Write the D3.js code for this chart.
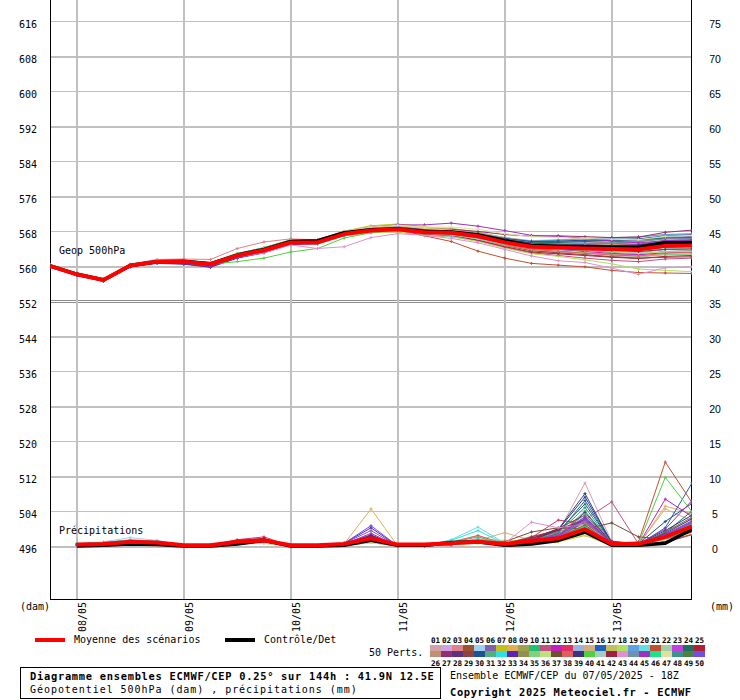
<!DOCTYPE html>
<html><head><meta charset="utf-8">
<script src="https://cdn.jsdelivr.net/npm/d3@7"></script>
<style>body{margin:0;background:#fff} svg{display:block}</style>
</head><body>
<svg id="c" width="740" height="700"></svg>
<script>
const dayLabels = ["08/05","09/05","10/05","11/05","12/05","13/05"];
const dayTicks = [1,5,9,13,17,21];
const geopTicks = [616,608,600,592,584,576,568,560,552,544,536,528,520,512,504,496];
const precTicks = [75,70,65,60,55,50,45,40,35,30,25,20,15,10,5,0];
const pertColors = ["#d4a0a8","#d0a0e0","#e08088","#a05030","#a0d0f0","#8060b0","#c0c020","#e0b050","#a0a050","#20c070",
"#c05080","#c020c0","#e03060","#a0b0e0","#d0b080","#2060c0","#c0c060","#b0e060","#60a0e0","#60e0e0",
"#c05030","#a0d0a0","#c040e0","#207060","#b02030","#c09070","#903070","#603080","#904040","#205090",
"#50b080","#30e0e0","#6020c0","#909050","#80d080","#c0e080","#705030","#e06060","#403080","#50d040",
"#a0d0c0","#a02040","#e090d0","#7090b0","#a030c0","#20e090","#e0e0a0","#409090","#508040","#7050e0"];

const geopMean = [560.0,558.1,556.8,560.1,561.0,561.0,560.4,562.4,563.6,565.4,565.4,567.3,568.1,568.4,567.7,567.6,566.8,565.4,564.4,564.2,564.0,563.9,563.8,564.6,564.7];
const geopControl = [560.0,558.1,556.8,560.1,561.0,561.1,560.5,562.5,563.8,565.6,565.8,567.6,568.3,568.5,567.9,567.8,567.1,565.8,564.7,564.5,564.4,564.3,564.3,565.3,565.3];
const geopPerts = [
[560.1,558.2,556.9,560.2,561.1,561.2,560.6,562.6,563.9,565.6,565.7,567.5,568.3,568.5,567.9,567.2,566.0,564.5,563.0,562.8,562.5,562.2,562.0,562.6,562.8],
[560.0,558.0,556.7,560.0,561.0,560.9,560.3,562.2,563.3,565.2,565.1,567.0,568.0,568.6,568.2,568.0,567.5,566.2,565.5,565.2,565.0,564.8,564.9,565.6,565.8],
[560.1,558.2,556.9,560.4,561.5,561.6,561.5,564.0,565.5,566.2,566.0,567.4,568.0,568.2,567.4,567.0,566.0,564.6,563.5,563.2,563.0,562.7,562.5,563.3,563.5],
[560.0,558.1,556.8,560.1,560.9,560.8,560.2,562.1,563.4,565.3,565.5,567.5,568.4,568.6,567.8,567.5,566.8,565.8,565.0,565.1,565.3,565.5,565.6,566.5,566.8],
[560.0,558.1,556.9,560.2,561.1,561.0,560.5,562.5,563.6,565.3,565.2,567.1,567.8,568.0,567.3,566.9,566.0,564.9,564.0,563.7,563.5,563.3,563.0,563.8,564.0],
[559.8,557.9,556.6,559.9,560.7,560.5,559.8,561.9,563.1,565.0,565.3,567.4,568.5,568.9,568.3,568.2,567.6,566.5,565.6,565.6,565.8,565.8,565.9,566.4,566.5],
[560.1,558.2,556.9,560.3,561.3,561.2,560.7,562.8,564.2,565.9,566.0,568.0,569.2,569.6,569.0,568.3,567.4,566.0,565.2,565.4,565.3,565.0,565.0,565.9,566.2],
[560.0,558.1,556.8,560.1,561.0,561.1,560.5,562.4,563.7,565.6,565.6,567.6,568.6,568.9,568.3,568.0,567.2,565.9,564.6,564.5,564.2,563.9,564.2,565.2,565.5],
[560.0,558.0,556.7,560.0,560.9,560.9,560.3,562.3,563.5,565.3,565.3,567.2,568.0,568.4,567.6,567.5,566.9,565.8,565.2,565.5,565.6,565.5,565.7,566.2,566.3],
[560.3,558.4,557.0,560.3,561.2,561.3,560.8,562.9,564.2,566.0,566.0,567.8,568.6,568.8,568.0,567.8,567.0,565.8,564.8,564.6,564.3,564.0,563.9,564.5,564.6],
[560.0,558.1,556.8,560.1,561.0,561.0,560.4,562.4,563.6,565.4,565.2,567.0,567.7,567.8,567.0,566.7,565.8,564.2,563.0,562.4,561.8,561.3,561.0,561.6,561.8],
[559.9,558.0,556.7,560.0,560.9,560.8,560.1,562.2,563.5,565.4,565.5,567.4,568.2,568.4,567.7,567.6,566.6,565.2,564.0,563.8,563.3,562.9,562.6,563.0,563.2],
[560.0,558.1,556.8,560.2,561.1,561.1,560.6,562.6,563.8,565.5,565.4,567.3,568.1,568.3,567.6,567.4,566.5,565.2,564.3,564.4,564.6,564.7,564.8,565.4,565.6],
[560.0,558.1,556.8,560.1,561.0,561.0,560.4,562.3,563.4,565.1,565.0,566.9,567.8,568.2,567.6,567.5,566.9,566.0,565.4,565.3,565.4,565.6,565.8,566.6,566.9],
[560.1,558.2,556.9,560.1,561.0,561.1,560.6,562.6,563.9,565.7,565.8,567.8,568.8,569.2,568.6,568.3,567.5,566.5,565.8,566.0,566.3,566.5,566.7,567.2,567.4],
[559.9,557.9,556.6,559.9,560.8,560.6,559.9,561.9,563.2,565.1,565.2,567.0,567.9,568.2,567.5,567.3,566.4,565.0,563.9,563.8,563.6,563.3,563.2,563.8,564.0],
[560.0,558.1,556.8,560.1,561.0,561.1,560.5,562.5,563.7,565.6,565.7,567.8,569.0,569.4,568.8,568.6,567.8,566.4,565.4,565.2,565.0,564.7,564.5,565.0,565.0],
[560.0,558.1,556.8,560.1,561.0,561.0,560.4,562.3,563.4,565.2,565.1,566.9,567.6,567.8,567.1,566.7,565.6,564.1,562.8,562.2,561.4,560.5,559.3,559.0,558.7],
[560.0,558.1,556.8,560.1,561.0,560.9,560.3,562.3,563.6,565.4,565.4,567.3,568.2,568.6,568.0,567.9,567.3,566.3,565.7,565.9,566.2,566.4,566.6,567.2,567.3],
[560.2,558.3,557.0,560.3,561.2,561.2,560.7,562.7,564.0,565.8,565.8,567.7,568.5,568.6,567.3,566.8,566.0,564.9,564.2,564.0,563.8,563.4,563.3,563.9,564.1],
[560.0,558.1,556.8,560.1,561.0,561.0,560.4,562.4,563.6,565.3,565.3,567.1,567.9,568.4,566.9,565.6,563.4,561.8,560.6,560.2,559.8,559.0,558.5,558.4,558.3],
[560.0,558.1,556.8,560.0,560.9,560.9,560.3,562.2,563.4,565.2,565.3,567.2,568.0,568.3,567.6,567.5,566.7,565.4,564.5,564.4,564.0,563.6,563.4,564.2,564.5],
[559.9,558.0,556.7,560.0,560.9,560.8,560.2,562.3,563.7,565.6,565.7,567.6,568.4,568.6,567.9,567.7,567.0,565.6,564.8,564.9,565.0,565.2,565.0,565.8,566.0],
[560.0,558.1,556.8,560.1,561.0,561.0,560.4,562.4,563.6,565.4,565.5,567.4,568.3,568.6,567.9,567.8,567.1,566.0,565.3,565.4,565.6,565.9,566.0,566.4,566.5],
[560.0,558.1,556.8,560.1,561.0,561.0,560.5,562.5,563.7,565.4,565.3,567.1,567.9,568.1,567.3,567.0,565.9,564.4,563.2,562.8,562.4,562.0,561.7,562.2,562.4],
[560.1,558.2,556.9,560.2,561.1,561.1,560.6,562.6,563.8,565.5,565.5,567.4,568.2,568.5,567.8,567.6,566.8,565.5,564.6,564.4,564.1,563.9,563.7,564.4,564.6],
[560.0,558.1,556.8,560.1,561.0,561.0,560.4,562.4,563.7,565.5,565.6,567.6,568.6,568.9,568.4,568.4,567.9,567.2,566.8,566.9,566.7,566.5,566.6,567.7,568.2],
[559.8,557.9,556.6,559.8,560.6,560.4,559.7,561.8,563.0,564.9,565.1,567.1,568.1,568.5,567.9,567.8,567.0,565.7,564.9,564.9,564.8,564.6,564.5,565.2,565.4],
[560.0,558.1,556.8,560.1,561.0,561.0,560.4,562.4,563.6,565.4,565.4,567.2,568.0,568.2,567.5,567.3,566.3,564.8,563.5,563.0,562.6,562.1,561.8,562.0,562.1],
[559.9,558.0,556.7,560.0,560.8,560.7,560.0,562.0,563.3,565.2,565.4,567.4,568.4,568.8,568.2,568.1,567.4,566.3,565.6,565.7,565.9,566.1,566.2,566.9,567.1],
[560.2,558.3,557.0,560.3,561.2,561.2,560.6,562.6,563.8,565.6,565.6,567.4,568.2,568.4,567.7,567.5,566.7,565.4,564.4,564.0,563.6,563.1,562.8,563.3,563.5],
[560.3,558.4,557.1,560.4,561.3,561.3,560.7,562.8,564.1,565.9,565.9,567.8,568.7,568.9,568.0,567.4,566.4,565.0,564.1,563.8,563.6,563.5,563.6,564.3,564.4],
[559.8,557.9,556.6,559.8,560.7,560.6,559.9,561.9,563.2,565.1,565.3,567.2,568.1,568.5,567.8,567.7,566.9,565.5,564.5,564.3,564.0,563.8,563.6,564.3,564.5],
[560.0,558.1,556.8,560.1,561.0,561.0,560.4,562.4,563.6,565.4,565.4,567.3,568.1,568.4,567.7,567.5,566.6,565.3,564.4,564.3,564.3,564.4,564.5,565.1,565.3],
[560.1,558.2,556.9,560.2,561.1,561.1,560.5,562.4,563.6,565.4,565.4,567.2,568.0,568.2,567.5,567.2,566.3,564.8,563.7,563.4,563.0,562.5,562.2,562.6,562.7],
[560.1,558.2,556.9,560.2,561.1,561.2,560.7,562.7,564.0,565.8,565.9,567.9,568.9,569.3,568.6,568.2,567.2,565.8,564.7,564.3,563.8,563.3,562.9,563.2,563.3],
[560.0,558.1,556.8,560.1,561.0,561.0,560.3,562.3,563.5,565.3,565.3,567.2,568.0,568.3,567.6,567.3,566.4,565.1,564.2,563.9,563.6,563.6,563.8,564.5,564.9],
[560.0,558.1,556.8,560.1,561.0,561.0,560.4,562.5,563.8,565.6,565.6,567.5,568.3,568.5,567.7,567.4,566.4,564.9,563.8,563.4,562.9,562.5,562.3,562.9,563.1],
[559.9,558.0,556.7,560.0,560.9,560.7,560.0,562.1,563.4,565.3,565.4,567.4,568.3,568.7,568.1,568.0,567.3,566.1,565.2,565.0,564.8,564.7,564.8,565.6,565.9],
[560.3,558.4,557.0,560.3,561.1,561.0,560.4,561.0,561.8,563.2,564.0,566.4,567.6,568.2,567.7,567.6,567.0,565.9,565.0,564.8,564.6,564.4,564.2,564.8,565.0],
[560.1,558.2,556.9,560.1,561.0,561.0,560.5,562.4,563.6,565.3,565.2,567.0,567.8,568.1,567.4,567.1,566.2,565.0,564.1,563.9,563.6,563.3,563.2,563.8,564.0],
[560.0,558.1,556.8,560.1,561.0,561.0,560.4,562.4,563.6,565.4,565.5,567.4,568.3,568.6,567.9,567.7,566.9,565.6,564.6,564.4,564.0,563.6,563.3,563.8,563.9],
[560.0,558.1,556.8,560.0,560.9,560.8,560.2,562.0,563.0,564.8,564.0,564.4,566.5,567.4,567.0,566.3,565.3,563.8,562.3,561.2,560.8,559.5,558.1,559.6,559.8],
[560.0,558.1,556.8,560.1,561.0,561.0,560.4,562.4,563.6,565.3,565.3,567.1,568.0,568.3,567.6,567.5,566.8,565.6,564.9,565.0,565.1,565.3,565.5,566.2,566.3],
[559.9,558.0,556.7,559.9,560.8,560.7,560.0,562.0,563.4,565.4,565.6,567.8,568.9,569.4,569.4,569.8,569.1,568.1,567.0,566.8,566.3,565.7,565.3,565.8,565.9],
[560.3,558.4,557.1,560.3,561.2,561.2,560.6,562.5,563.7,565.5,565.5,567.3,568.1,568.4,567.7,567.6,566.9,565.7,564.7,564.6,564.4,564.2,564.1,564.7,564.9],
[560.1,558.2,556.9,560.2,561.1,561.2,560.6,562.7,564.0,565.8,565.9,567.9,568.9,569.3,568.9,568.9,568.4,567.4,566.7,566.5,566.3,566.1,566.0,566.8,567.0],
[560.0,558.1,556.8,560.0,560.9,560.9,560.3,562.2,563.4,565.2,565.2,567.1,567.9,568.2,567.5,567.3,566.5,565.2,564.3,564.1,563.9,563.8,563.7,564.4,564.6],
[560.0,558.1,556.8,560.1,561.0,561.0,560.4,562.4,563.6,565.4,565.4,567.3,568.2,568.6,567.9,567.8,567.1,565.8,564.9,564.7,564.4,564.1,563.9,564.5,564.7],
[559.8,557.9,556.6,559.9,560.8,560.7,560.0,562.0,563.3,565.2,565.3,567.3,568.2,568.6,568.0,567.9,567.1,565.8,564.9,564.7,564.4,564.2,564.0,564.6,564.8]
];

const precMean = [0.2,0.3,0.6,0.5,0.1,0.1,0.6,0.8,0.1,0.1,0.3,1.1,0.2,0.2,0.4,0.6,0.3,0.7,1.1,2.4,0.3,0.3,1.3,2.8];
const precControl = [0,0.1,0.3,0.2,0,0,0.3,0.8,0,0,0.1,0.8,0.1,0.1,0.5,0.6,0.1,0.3,0.8,2.0,0.1,0.1,0.4,2.4];
const precPerts = [
[0.2,0.4,0.6,0.5,0,0.1,0.6,0.8,0,0,0.2,0.9,0,0,0.2,0.6,0.3,1.4,2.0,9.0,0.6,0.2,0.8,2.2],
[0.1,0.2,0.4,0.3,0,0.0,0.4,0.5,0,0,0.1,0.6,0,0,0.3,0.8,0.2,0.5,0.9,2.8,0.2,0.1,1.5,3.2],
[0.3,0.4,0.5,0.6,0,0.1,0.8,1.0,0,0,0.3,1.2,0,0,0.2,0.5,0.1,0.9,1.6,3.5,0.4,0.3,0.6,1.8],
[0.2,0.3,0.6,0.4,0,0.1,0.5,0.7,0,0,0.2,1.0,0,0,0.4,0.7,0.3,0.6,1.2,2.0,0.3,0.2,1.2,3.0],
[0.3,0.6,1.2,0.8,0,0.1,0.4,0.5,0,0,0.1,0.7,0,0,0.3,1.1,0.2,0.4,0.8,1.8,0.2,0.1,0.7,2.6],
[0.1,0.3,0.5,0.4,0,0.1,0.6,0.7,0,0,0.4,2.2,0,0,0.2,0.6,0.1,0.7,1.3,3.0,0.3,0.2,1.4,3.4],
[0.2,0.2,0.4,0.3,0,0.0,0.3,0.4,0,0,0.1,0.5,0,0,0.2,0.4,0.1,0.3,0.6,1.5,0.1,0.1,2.0,3.8],
[0.2,0.3,0.5,0.4,0,0.1,0.5,0.6,0,0,0.3,5.3,0,0,0.4,0.9,0.8,0.7,1.1,2.4,0.2,0.1,5.7,4.6],
[0.1,0.2,0.4,0.3,0,0.0,0.4,0.5,0,0,0.1,0.6,0,0,0.2,0.5,0.2,0.8,1.4,2.9,0.3,0.2,0.9,2.0],
[0.3,0.4,0.7,0.5,0,0.1,0.6,0.7,0,0,0.2,0.8,0,0,0.3,0.7,0.2,0.6,1.5,5.0,0.4,0.2,0.7,2.4],
[0.2,0.3,0.5,0.4,0,0.1,0.7,0.9,0,0,0.2,0.9,0,0,0.2,0.6,0.3,1.1,2.2,3.8,6.3,0.3,0.5,1.6],
[0.1,0.2,0.4,0.3,0,0.1,0.5,0.6,0,0,0.2,1.0,0,0,0.3,0.6,0.2,0.5,1.0,2.6,0.3,0.2,6.7,4.2],
[0.2,0.3,0.6,0.5,0,0.1,0.9,1.3,0,0,0.2,0.8,0,0,0.2,0.5,0.3,1.2,3.7,3.2,0.5,0.2,0.8,2.1],
[0.2,0.4,0.6,0.5,0,0.1,0.4,0.5,0,0,0.1,0.6,0,0,0.3,0.7,0.2,0.4,0.8,2.2,0.2,0.1,1.1,2.8],
[0.2,0.3,0.5,0.4,0,0.1,0.5,0.6,0,0,0.2,0.7,0,0,0.5,0.8,1.9,0.8,1.2,2.7,0.3,0.2,5.3,3.6],
[0.1,0.3,0.5,0.4,0,0.1,0.4,0.6,0,0,0.2,0.9,0,0,0.2,0.6,0.2,0.7,1.8,6.5,0.4,0.2,2.6,9.0],
[0.2,0.3,0.4,0.3,0,0.0,0.4,0.5,0,0,0.1,0.5,0,0,0.2,0.5,0.1,0.5,0.9,2.3,0.2,0.1,1.0,2.7],
[0.2,0.4,0.6,0.5,0,0.1,0.5,0.6,0,0,0.2,0.7,0,0,0.3,0.6,0.2,0.6,1.1,3.1,0.3,0.2,1.3,2.3],
[0.3,0.5,0.8,0.6,0,0.1,0.5,0.7,0,0,0.2,0.8,0,0,0.4,0.9,0.2,0.5,1.0,2.0,0.2,0.2,0.9,3.1],
[0.2,0.3,0.5,0.4,0,0.1,0.6,0.7,0,0,0.3,1.3,0,0,0.9,2.7,0.4,0.6,1.2,2.4,0.3,0.2,0.8,2.5],
[0.2,0.3,0.5,0.4,0,0.1,0.5,0.6,0,0,0.2,0.8,0,0,0.3,0.6,0.2,0.7,1.4,3.3,0.4,0.6,12.0,6.2],
[0.1,0.2,0.4,0.3,0,0.0,0.3,0.4,0,0,0.1,0.5,0,0,0.2,0.5,0.1,0.4,0.8,1.9,0.2,0.1,0.9,2.2],
[0.2,0.3,0.5,0.4,0,0.1,0.6,0.8,0,0,0.3,1.1,0,0,0.3,0.7,0.3,0.9,1.6,4.2,0.4,0.3,1.7,3.6],
[0.2,0.4,0.6,0.5,0,0.1,0.5,0.7,0,0,0.2,0.9,0,0,0.3,0.8,0.2,0.8,2.1,6.0,0.5,0.3,1.9,5.0],
[0.3,0.4,0.7,0.6,0,0.1,0.8,1.1,0,0,0.3,1.0,0,0,0.2,0.6,0.2,1.0,2.5,4.4,0.6,0.2,0.7,1.9],
[0.2,0.3,0.5,0.4,0,0.1,0.5,0.6,0,0,0.2,0.7,0,0,0.3,0.6,0.2,0.5,1.0,2.6,0.3,0.2,1.2,2.6],
[0.1,0.3,0.4,0.3,0,0.1,0.6,0.8,0,0,0.2,0.9,0,0,0.2,0.5,0.2,0.8,1.7,3.9,0.7,0.3,1.0,2.2],
[0.2,0.3,0.5,0.4,0,0.1,0.5,0.6,0,0,0.3,1.6,0,0,0.3,0.6,0.2,0.6,1.3,4.8,0.4,0.2,1.6,3.3],
[0.2,0.3,0.6,0.5,0,0.1,0.7,0.8,0,0,0.2,0.8,0,0,0.2,0.5,0.3,1.3,2.3,3.6,0.5,0.3,0.6,1.7],
[0.1,0.3,0.5,0.4,0,0.1,0.5,0.6,0,0,0.3,1.4,0,0,0.3,0.7,0.2,0.9,2.4,7.5,0.4,0.3,3.5,6.1],
[0.3,0.5,0.8,0.6,0,0.1,0.4,0.5,0,0,0.2,0.7,0,0,0.5,1.3,0.2,0.7,1.6,4.5,0.3,0.2,1.0,2.4],
[0.3,0.5,0.9,0.7,0,0.1,0.5,0.6,0,0,0.2,0.9,0,0,0.8,2.2,0.3,0.6,1.1,2.9,0.2,0.2,0.9,2.1],
[0.2,0.3,0.5,0.4,0,0.1,0.5,0.7,0,0,0.4,2.6,0,0,0.3,0.7,0.2,0.7,1.3,3.5,0.3,0.2,1.8,3.9],
[0.2,0.3,0.4,0.3,0,0.0,0.4,0.5,0,0,0.1,0.6,0,0,0.2,0.5,0.2,0.5,1.0,2.2,0.2,0.1,1.1,2.9],
[0.2,0.4,0.6,0.5,0,0.1,0.5,0.6,0,0,0.2,0.8,0,0,0.6,1.5,0.2,0.5,0.9,2.1,0.2,0.2,1.3,2.7],
[0.1,0.2,0.4,0.3,0,0.0,0.4,0.5,0,0,0.1,0.5,0,0,0.2,0.4,0.1,0.4,0.8,1.6,0.1,0.1,0.8,1.9],
[0.2,0.3,0.5,0.4,0,0.1,0.5,0.7,0,0,0.2,0.8,0,0,0.3,0.6,0.6,2.0,2.6,2.4,3.3,1.3,1.0,2.4],
[0.3,0.4,0.7,0.6,0,0.1,0.7,0.9,0,0,0.2,1.0,0,0,0.5,1.5,0.3,0.9,2.0,3.4,0.5,0.2,0.9,2.3],
[0.1,0.2,0.4,0.3,0,0.1,0.5,0.6,0,0,0.3,1.5,0,0,0.2,0.6,0.2,0.8,2.3,7.0,0.5,0.3,2.2,4.4],
[0.3,0.4,0.6,0.5,0,0.1,0.4,0.5,0,0,0.2,0.7,0,0,0.3,0.7,0.2,0.5,1.0,2.4,0.3,0.3,9.8,4.9],
[0.2,0.3,0.5,0.4,0,0.1,0.4,0.5,0,0,0.1,0.6,0,0,0.4,0.9,0.2,0.4,0.9,2.0,0.2,0.1,0.8,2.0],
[0.2,0.3,0.6,0.5,0,0.1,0.7,1.0,0,0,0.2,0.9,0,0,0.2,0.6,0.3,1.1,2.4,3.7,0.6,0.3,0.7,2.0],
[0.2,0.3,0.5,0.4,0,0.1,0.6,0.8,0,0,0.2,0.8,0,0,0.3,0.7,0.4,3.4,2.6,3.1,0.4,0.2,1.2,2.6],
[0.2,0.4,0.7,0.5,0,0.1,0.5,0.6,0,0,0.2,0.8,0,0,0.4,0.8,0.2,0.6,1.3,3.6,0.3,0.2,1.4,3.2],
[0.1,0.2,0.4,0.3,0,0.1,0.6,0.8,0,0,0.3,1.8,0,0,0.2,0.6,0.2,0.9,1.5,4.1,0.4,0.3,2.4,6.5],
[0.3,0.4,0.7,0.5,0,0.1,0.4,0.5,0,0,0.2,0.7,0,0,0.4,1.0,0.2,0.5,1.1,2.8,0.2,0.2,1.1,2.4],
[0.1,0.2,0.3,0.3,0,0.0,0.3,0.4,0,0,0.1,0.5,0,0,0.2,0.4,0.1,0.3,0.7,1.7,0.1,0.1,0.8,1.8],
[0.2,0.4,0.6,0.5,0,0.1,0.5,0.6,0,0,0.2,0.9,0,0,0.3,0.7,0.2,0.7,1.9,5.5,0.4,0.2,1.5,3.4],
[0.2,0.3,0.5,0.4,0,0.1,0.5,0.6,0,0,0.2,0.8,0,0,0.3,0.6,0.2,0.6,1.2,3.0,0.3,0.2,2.0,4.1],
[0.2,0.3,0.5,0.4,0,0.1,0.6,0.7,0,0,0.4,2.9,0,0,0.3,0.7,0.2,0.8,1.4,3.8,0.3,0.2,1.6,3.5]
];

const MONO = "'DejaVu Sans Mono', monospace";
const svg = d3.select("#c");
svg.append("rect").attr("width",740).attr("height",700).attr("fill","#fff");

const x = d3.scaleLinear().domain([0,24]).range([50,692]);
const yG = d3.scaleLinear().domain([496,616]).range([546,21]);
const yP = d3.scaleLinear().domain([0,75]).range([546,21]);
const L = 50, R = 691, B = 599;

svg.append("clipPath").attr("id","pc").append("rect").attr("x",L).attr("y",0).attr("width",R-L+1).attr("height",B);

// horizontal grid
const gridG = svg.append("g").attr("transform",`translate(${L},0)`)
  .call(d3.axisLeft(yG).tickValues(geopTicks.filter(v=>v!==552)).tickSize(-(R-L)).tickFormat(""));
gridG.select(".domain").remove();
gridG.selectAll(".tick line").attr("stroke","#c0c0c0").attr("shape-rendering","crispEdges")
  .attr("stroke-width", d => (Math.round(yP.invert(yG(d))) % 10 === 0) ? 2 : 1);
[-1,1].forEach(o=>{
  svg.append("line").attr("x1",L).attr("x2",R).attr("y1",yG(552)+o+0.5).attr("y2",yG(552)+o+0.5)
    .attr("stroke","#8c8c8c").attr("stroke-width",1).attr("shape-rendering","crispEdges");
});

// vertical grid
const vg = svg.append("g").attr("transform",`translate(0,${B})`)
  .call(d3.axisBottom(x).tickValues(dayTicks).tickSize(-B).tickFormat(""));
vg.select(".domain").remove();
vg.selectAll(".tick line").attr("stroke","#c0c0c0").attr("stroke-width",2).attr("shape-rendering","crispEdges");

// frame
svg.append("line").attr("x1",L+0.5).attr("x2",L+0.5).attr("y1",0).attr("y2",B+0.5).attr("stroke","#000");
svg.append("line").attr("x1",R+0.5).attr("x2",R+0.5).attr("y1",0).attr("y2",B+0.5).attr("stroke","#000");
svg.append("line").attr("x1",L).attr("x2",R+1).attr("y1",B+0.5).attr("y2",B+0.5).attr("stroke","#000");

// left labels
const la = svg.append("g").attr("transform",`translate(${L},0)`)
  .call(d3.axisLeft(yG).tickValues(geopTicks).tickSize(0).tickPadding(13).tickFormat(d3.format("d")));
la.select(".domain").remove();
la.selectAll("text").attr("font-family",MONO).attr("font-size",10).attr("fill","#000").attr("dy","0.6em");

// right labels
const ra = svg.append("g").attr("transform",`translate(${R},0)`)
  .call(d3.axisRight(yP).tickValues(precTicks).tickSize(0).tickPadding(24).tickFormat(d3.format("d")));
ra.select(".domain").remove();
ra.selectAll("text").attr("font-family","'Liberation Sans', Arial, sans-serif").attr("font-size",10.5)
  .attr("fill","#000").attr("text-anchor","middle").attr("dy","0.62em");

// date labels
const da = svg.append("g").attr("transform",`translate(0,${B})`)
  .call(d3.axisBottom(x).tickValues(dayTicks).tickSize(0).tickFormat((d,i)=>dayLabels[i]));
da.select(".domain").remove();
da.selectAll("text").attr("font-family",MONO).attr("font-size",10).attr("fill","#000")
  .attr("transform","rotate(-90)").attr("text-anchor","end").attr("x",-3).attr("y",9).attr("dy",0);

svg.append("text").attr("x",20).attr("y",610).attr("font-family",MONO).attr("font-size",10).text("(dam)");
svg.append("text").attr("x",710).attr("y",610).attr("font-family",MONO).attr("font-size",10).text("(mm)");

const plot = svg.append("g").attr("clip-path","url(#pc)");
const lineG = d3.line().x((d,i)=>x(i)).y(d=>yG(d));
const lineP = d3.line().x((d,i)=>x(i+1)).y(d=>yP(d));
const cross = "M-1.5,0H1.5M0,-1.5V1.5";

function drawPerts(data, lineFn, xi, yS){
  data.forEach((s,k)=>{
    const c = pertColors[k];
    plot.append("path").attr("d",lineFn(s)).attr("fill","none").attr("stroke",c).attr("stroke-width",1);
    plot.append("g").selectAll("path").data(s).join("path")
      .attr("transform",(d,i)=>`translate(${x(i+xi)},${yS(d)})`)
      .attr("d",cross).attr("stroke",c).attr("stroke-width",1).attr("fill","none");
  });
}
drawPerts(geopPerts, lineG, 0, yG);
drawPerts(precPerts, lineP, 1, yP);

plot.append("path").attr("d",lineG(geopControl)).attr("fill","none").attr("stroke","#000").attr("stroke-width",3.5).attr("stroke-linejoin","round");
plot.append("path").attr("d",lineP(precControl)).attr("fill","none").attr("stroke","#000").attr("stroke-width",3.5).attr("stroke-linejoin","round");
plot.append("path").attr("d",lineG(geopMean)).attr("fill","none").attr("stroke","#ff0000").attr("stroke-width",4).attr("stroke-linejoin","round");
plot.append("path").attr("d",lineP(precMean)).attr("fill","none").attr("stroke","#ff0000").attr("stroke-width",4).attr("stroke-linejoin","round");

svg.append("text").attr("x",59).attr("y",254).attr("font-family",MONO).attr("font-size",10).text("Geop 500hPa");
svg.append("text").attr("x",59).attr("y",534).attr("font-family",MONO).attr("font-size",10).text("Précipitations");

// legend
svg.append("line").attr("x1",35).attr("x2",65).attr("y1",640).attr("y2",640).attr("stroke","#ff0000").attr("stroke-width",4);
svg.append("text").attr("x",74).attr("y",643).attr("font-family",MONO).attr("font-size",10).text("Moyenne des scénarios");
svg.append("line").attr("x1",225).attr("x2",255).attr("y1",640).attr("y2",640).attr("stroke","#000").attr("stroke-width",4);
svg.append("text").attr("x",264).attr("y",643).attr("font-family",MONO).attr("font-size",10).text("Contrôle/Det");
svg.append("text").attr("x",369).attr("y",656).attr("font-family",MONO).attr("font-size",10).text("50 Perts.");

const sw = svg.append("g");
pertColors.forEach((c,k)=>{
  const col = k % 25, row = Math.floor(k/25);
  const sx = 430 + col*11;
  sw.append("rect").attr("x",sx).attr("y",row===0?645:651).attr("width",11).attr("height",6).attr("fill",c);
  sw.append("text").attr("x",sx+5.5).attr("y",row===0?643:666).attr("text-anchor","middle")
    .attr("font-family",MONO).attr("font-weight","bold").attr("font-size",7.6).text(d3.format("02d")(k+1));
});

// bottom box
svg.append("rect").attr("x",20.5).attr("y",667.5).attr("width",420).attr("height",31).attr("fill","#fff").attr("stroke","#000");
svg.append("text").attr("x",30).attr("y",680).attr("font-family",MONO).attr("font-weight","bold").attr("font-size",10.4)
  .attr("letter-spacing",0.72).text("Diagramme ensembles ECMWF/CEP 0.25° sur 144h : 41.9N 12.5E");
svg.append("text").attr("x",30).attr("y",693).attr("font-family",MONO).attr("font-size",10)
  .attr("letter-spacing",0.95).text("Géopotentiel 500hPa (dam) , précipitations (mm)");
svg.append("text").attr("x",450).attr("y",679).attr("font-family",MONO).attr("font-size",10)
  .text("Ensemble ECMWF/CEP du 07/05/2025 - 18Z");
svg.append("text").attr("x",450).attr("y",696).attr("font-family",MONO).attr("font-weight","bold").attr("font-size",10.4)
  .attr("letter-spacing",0.65).text("Copyright 2025 Meteociel.fr - ECMWF");
</script>
</body></html>
